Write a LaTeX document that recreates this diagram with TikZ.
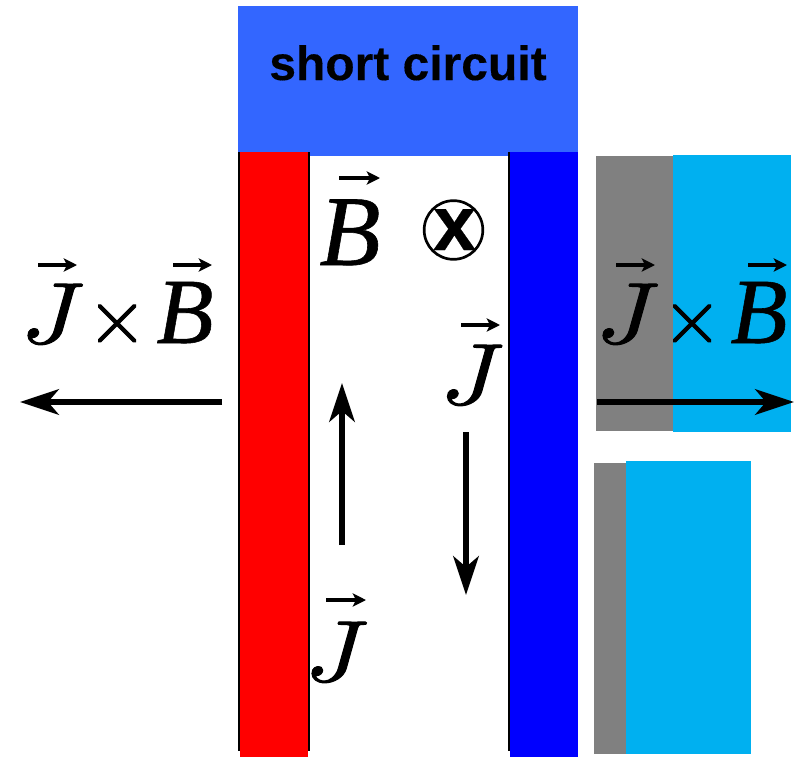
\documentclass[tikz,border=0pt]{standalone}
\usepackage{fontspec}
\setmainfont{Liberation Serif}
\newfontfamily\hdfont{Liberation Sans}[FakeBold=0.3]
\newfontfamily\jfont{Latin Modern Math}[FakeBold=1.2,FakeStretch=1.12]
\newfontfamily\tfont{Latin Modern Math}[FakeBold=1.3]
\newfontfamily\bfont{Liberation Serif}[FakeBold=0.6]
\usetikzlibrary{arrows.meta}
\definecolor{topblue}{HTML}{3366FF}
\definecolor{skyc}{HTML}{00B0F0}
\definecolor{greyc}{HTML}{808080}
\newcommand{\symJ}{{\jfont\fontsize{65}{65}\selectfont\symbol{"1D43D}}}
\newcommand{\symB}{{\bfont\itshape\fontsize{70}{70}\selectfont B}}
\newcommand{\symBbig}{{\bfont\itshape\fontsize{75}{75}\selectfont B}}
\newcommand{\symT}{{\tfont\fontsize{59}{59}\selectfont\symbol{"00D7}}}
\tikzset{
  x=0.75pt,y=-0.75pt,
  edgeline/.style={line width=1.5pt,black},
  force/.style={line width=4.4pt,-{Stealth[length=29pt,width=19pt,inset=8pt]},black},
  vecbar/.style={line width=2.6pt,-{Stealth[length=10pt,width=10pt,inset=2.5pt]},black},
  sym/.style={anchor=base,inner sep=0pt},
}
\begin{document}
\begin{tikzpicture}
\useasboundingbox (0,0) rectangle (794,758);
\fill[topblue] (238,6) rectangle (578,156);
\fill[red] (240,152) rectangle (308,757);
\fill[blue] (510,152) rectangle (578,757);
\draw[edgeline] (239,152) -- (239,751);
\draw[edgeline] (309,152) -- (309,751);
\draw[edgeline] (508.5,152) -- (508.5,751);
\fill[greyc] (596,156) rectangle (673,431);
\fill[skyc] (673,155) rectangle (791,432);
\fill[greyc] (594,463) rectangle (626,754);
\fill[skyc] (626,461) rectangle (751,754);
\node[font=\hdfont\bfseries\fontsize{36}{36}\selectfont,anchor=base,inner sep=0pt] (title) at (408,80) {short circuit};
\coordinate (fl0) at (222,402); \coordinate (fl1) at (20,402);
\draw[force] (fl0) -- (fl1);
\coordinate (fr0) at (597,402); \coordinate (fr1) at (794,402);
\draw[force] (fr0) -- (fr1);
\coordinate (u0) at (342,545); \coordinate (u1) at (342,383);
\draw[force] (u0) -- (u1);
\coordinate (d0) at (466,432); \coordinate (d1) at (466,595);
\draw[force] (d0) -- (d1);
\node[sym] (B1) at (350,265) {\symBbig};
\draw[vecbar] (339,178) -- (380,178);
\node[sym] (J1) at (467.5,404) {\symJ};
\draw[vecbar] (461,325) -- (500,325);
\node[sym] (J2) at (332,681) {\symJ};
\draw[vecbar] (326,600) -- (366,600);
\node[sym] (Ja) at (48,343) {\symJ};
\draw[vecbar] (38,265) -- (77,265);
\node[sym] (Ta) at (117,343) {\symT};
\node[sym] (Ba) at (185,343) {\symB};
\draw[vecbar] (173,265) -- (212,265);
\node[sym] (Jb) at (623,343) {\symJ};
\draw[vecbar] (616,265) -- (655,265);
\node[sym] (Tb) at (692,343) {\symT};
\node[sym] (Bb) at (759,343) {\symB};
\draw[vecbar] (748,265) -- (787,265);
\node[circle,draw,line width=2pt,minimum size=44pt,inner sep=0pt] (mark) at (453.5,230) {};
\node[font=\hdfont\bfseries\fontsize{58}{58}\selectfont,anchor=base,inner sep=0pt] (markx) at (454.5,250) {x};
\end{tikzpicture}
\end{document}
